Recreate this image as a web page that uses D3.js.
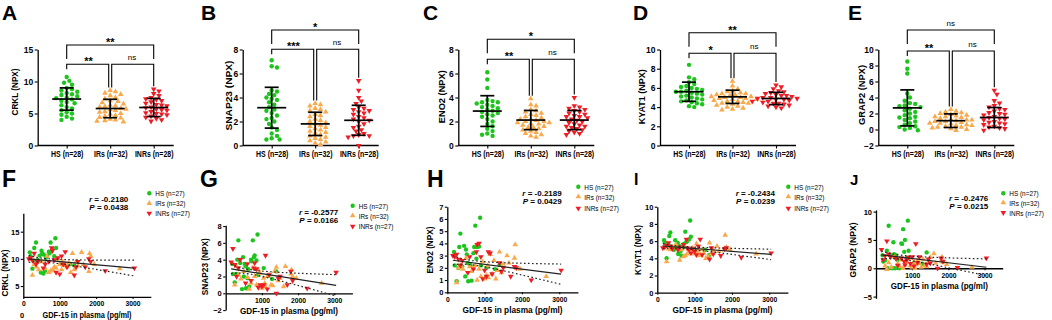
<!DOCTYPE html>
<html>
<head>
<meta charset="utf-8">
<script src="https://cdn.jsdelivr.net/npm/d3@7"></script>
<style>
body { margin: 0; background: #fff; }
svg { display: block; font-family: "Liberation Sans", Arial, sans-serif; }
</style>
</head>
<body>
<svg id="fig" width="1052" height="320"></svg>
<script>
// ---- shared labels / colours ----
const groupsTop = ["HS (n=28)", "IRs (n=32)", "INRs (n=28)"];
const groupsBottom = ["HS (n=27)", "IRs (n=32)", "INRs (n=27)"];
const groupColors = ["#1ec41e", "#f9a94b", "#ee1d25"];

// ---- top row: NPX per group ----
const crklHS = [10.7, 10.1, 9.8, 9.5, 9.0, 8.8, 8.6, 8.4, 8.2, 8.0, 7.9, 7.7, 7.5, 7.4, 7.2, 7.0, 6.8, 6.6, 6.3, 6.0, 5.8, 5.5, 5.2, 5.0, 4.8, 4.5, 4.2, 4.0];
const crklIRs = [8.6, 8.4, 8.2, 8.0, 7.8, 7.5, 7.3, 7.0, 6.9, 6.7, 6.5, 6.3, 6.1, 6.0, 5.8, 5.7, 5.5, 5.3, 5.2, 5.0, 4.9, 4.7, 4.6, 4.4, 4.3, 4.1, 4.0, 3.9, 3.8, 3.7, 5.6, 6.2];
const crklINRs = [8.8, 8.5, 8.1, 7.8, 7.5, 7.2, 7.0, 6.8, 6.6, 6.4, 6.2, 6.0, 5.9, 5.7, 5.5, 5.3, 5.1, 5.0, 4.8, 4.6, 4.4, 4.2, 4.0, 3.8, 6.3, 5.6, 7.3, 4.9];
const crklMean = [7.26, 5.78, 5.94];
const crklSD = [1.74, 1.44, 1.42];
const crklSig = ["**", "**", "ns"];

const snapHS = [7.1, 6.6, 6.5, 4.6, 4.5, 4.3, 4.2, 4.0, 3.9, 3.8, 3.6, 3.4, 3.2, 3.0, 2.9, 2.7, 2.5, 2.3, 2.2, 2.0, 1.8, 1.5, 1.3, 1.0, 0.8, 0.6, 0.5, 0.5];
const snapIRs = [3.5, 3.4, 3.3, 3.1, 3.0, 2.8, 2.6, 2.5, 2.4, 2.2, 2.1, 2.0, 1.9, 1.8, 1.7, 1.6, 1.5, 1.4, 1.3, 1.2, 1.1, 1.0, 0.9, 0.8, 0.7, 0.6, 0.5, 0.4, 0.3, 0.2, 0.1, 2.9];
const snapINRs = [5.4, 4.6, 4.0, 3.7, 3.5, 3.2, 3.1, 3.0, 2.8, 2.7, 2.6, 2.4, 2.3, 2.2, 2.1, 2.0, 1.8, 1.6, 1.5, 1.3, 1.2, 1.0, 0.9, 0.8, 0.8, 0.7, 0.0, 2.9];
const snapMean = [3.15, 1.8, 2.1];
const snapSD = [1.7, 0.97, 1.25];
const snapSig = ["*", "***", "ns"];

const enoHS = [6.1, 5.5, 4.8, 3.8, 3.7, 3.6, 3.5, 3.4, 3.3, 3.2, 3.1, 3.0, 2.9, 2.8, 2.6, 2.5, 2.4, 2.2, 2.0, 1.8, 1.6, 1.4, 1.2, 1.0, 0.9, 0.8, 2.7, 3.6];
const enoIRs = [3.9, 3.4, 3.3, 3.0, 2.9, 2.8, 2.7, 2.5, 2.4, 2.3, 2.2, 2.1, 2.0, 1.9, 1.9, 1.8, 1.7, 1.6, 1.5, 1.4, 1.3, 1.2, 1.1, 1.0, 0.9, 0.8, 0.7, 2.6, 2.0, 1.5, 2.2, 1.8];
const enoINRs = [4.0, 3.3, 3.2, 3.1, 3.0, 2.9, 2.7, 2.6, 2.5, 2.4, 2.3, 2.2, 2.1, 2.0, 1.9, 1.8, 1.7, 1.6, 1.5, 1.4, 1.3, 1.2, 1.1, 1.0, 0.9, 2.8, 1.6, 2.4];
const enoMean = [2.87, 2.12, 2.12];
const enoSD = [1.28, 0.8, 0.8];
const enoSig = ["*", "**", "ns"];

const kyatHS = [8.4, 7.1, 6.9, 6.6, 6.4, 6.2, 6.1, 6.0, 5.9, 5.8, 5.7, 5.6, 5.5, 5.4, 5.3, 5.2, 5.1, 5.0, 4.9, 4.8, 4.7, 4.6, 4.5, 4.4, 4.3, 4.1, 4.0, 5.6];
const kyatIRs = [6.7, 6.2, 5.9, 5.7, 5.6, 5.5, 5.4, 5.3, 5.2, 5.1, 5.0, 5.0, 4.9, 4.9, 4.8, 4.7, 4.6, 4.5, 4.4, 4.3, 4.2, 4.1, 4.0, 3.9, 3.8, 3.7, 5.3, 5.1, 4.8, 4.6, 5.4, 4.4];
const kyatINRs = [6.3, 6.1, 5.9, 5.7, 5.6, 5.4, 5.3, 5.2, 5.1, 5.0, 4.9, 4.8, 4.7, 4.6, 4.5, 4.4, 4.3, 4.2, 4.1, 4.0, 3.9, 5.5, 5.0, 4.8, 4.6, 4.4, 5.2, 4.9];
const kyatMean = [5.6, 5.07, 4.9];
const kyatSD = [1.0, 0.69, 0.64];
const kyatSig = ["**", "*", "ns"];

const grapHS = [8.5, 7.6, 7.0, 4.5, 4.0, 3.6, 3.3, 3.0, 2.8, 2.6, 2.4, 2.2, 2.0, 1.8, 1.6, 1.4, 1.2, 1.0, 0.8, 0.6, 0.4, 0.2, 0.0, -0.1, 2.9, 1.5, 3.2, 0.3];
const grapIRs = [2.5, 2.3, 2.2, 2.0, 1.9, 1.8, 1.7, 1.6, 1.5, 1.4, 1.3, 1.2, 1.1, 1.0, 0.9, 0.8, 0.7, 0.6, 0.5, 0.4, 0.3, 0.2, 0.1, 0.0, -0.1, 1.2, 0.8, 1.6, 0.5, 2.1, 1.0, 0.3];
const grapINRs = [4.9, 4.4, 3.6, 3.3, 3.0, 2.8, 2.5, 2.3, 2.1, 2.0, 1.8, 1.6, 1.5, 1.4, 1.2, 1.0, 0.9, 0.8, 0.6, 0.4, 0.3, 0.2, 0.1, -0.1, 1.9, 1.3, 0.7, 2.6];
const grapMean = [2.7, 1.1, 1.5];
const grapSD = [2.25, 0.85, 1.25];
const grapSig = ["ns", "**", "ns"];

// ---- bottom row: GDF-15 (pg/ml) per subject ----
const gdfHS = [180, 200, 250, 300, 320, 350, 400, 450, 480, 500, 520, 550, 560, 600, 620, 650, 700, 720, 750, 780, 800, 850, 880, 900, 1050, 1280, 1400];
const gdfIRs = [250, 300, 350, 420, 500, 600, 650, 700, 750, 800, 850, 900, 950, 1000, 1050, 1080, 1100, 1150, 1200, 1250, 1300, 1350, 1400, 1450, 1500, 1600, 1650, 1800, 1820, 1850, 1950, 2650];
const gdfINRs = [150, 200, 250, 300, 350, 400, 550, 600, 700, 780, 800, 850, 900, 950, 1000, 1050, 1100, 1150, 1200, 1400, 1450, 1500, 1700, 1800, 1850, 2250, 3050];

const crklHSy = [11.2, 10.5, 8.2, 12.0, 9.5, 13.0, 9.8, 10.6, 7.5, 11.5, 11.0, 7.3, 10.8, 7.8, 10.2, 10.5, 11.3, 11.0, 13.0, 11.5, 11.8, 10.5, 13.8, 12.0, 9.3, 9.0, 8.8];
const crklIRsy = [7.0, 9.0, 8.5, 8.0, 9.5, 8.2, 10.5, 7.5, 7.8, 8.0, 8.5, 8.3, 10.0, 9.0, 8.0, 9.5, 8.8, 9.0, 8.5, 9.2, 7.5, 11.0, 8.0, 9.5, 8.7, 11.2, 9.0, 7.7, 11.0, 10.5, 9.0, 8.2];
const crklINRsy = [10.0, 10.2, 9.7, 11.0, 9.0, 9.5, 8.3, 9.0, 9.5, 12.0, 11.5, 9.8, 7.5, 10.2, 7.2, 10.5, 9.0, 11.3, 8.5, 7.0, 8.5, 9.5, 8.5, 10.0, 9.5, 7.8, 8.3];

const snapHSy = [3.5, 2.3, 1.3, 2.3, 4.0, 6.3, 3.6, 0.5, 4.3, 2.0, 3.5, 3.2, 0.6, 1.8, 2.9, 0.8, 4.0, 3.8, 6.3, 4.3, 4.5, 3.9, 7.0, 2.2, 3.0, 1.7, 2.6];
const snapIRsy = [1.0, 3.2, 2.2, 1.7, 2.6, 1.9, 0.5, 1.2, 3.0, 2.0, 1.0, 2.8, 2.4, 0.6, 1.8, 1.2, 0.8, 2.0, 2.2, 1.0, 0.9, 2.6, 3.1, 1.5, 1.8, 0.8, 3.2, 2.3, 2.8, 2.0, 1.8, 1.2];
const snapINRsy = [3.7, 5.3, 3.4, 2.0, 3.0, 4.0, 1.2, 3.5, 1.5, 3.0, 3.6, 2.9, 0.7, 1.0, 0.8, 1.0, 4.5, 0.5, 2.2, 0.0, 1.8, 2.0, 1.0, 2.6, 1.5, 0.6, 2.5];

const enoHSy = [3.3, 2.2, 0.9, 2.0, 3.7, 4.8, 2.1, 3.8, 1.3, 3.5, 3.1, 2.4, 0.9, 2.3, 2.2, 0.95, 3.2, 3.7, 5.45, 2.75, 3.7, 3.75, 6.1, 2.2, 2.0, 1.9, 2.25];
const enoIRsy = [0.8, 2.0, 2.2, 1.9, 2.8, 2.1, 1.7, 2.0, 2.2, 1.0, 1.9, 1.3, 2.5, 1.1, 1.4, 2.2, 1.2, 3.1, 1.5, 2.6, 1.1, 1.8, 3.3, 1.6, 2.3, 3.0, 2.4, 2.8, 3.9, 2.0, 1.9, 1.3];
const enoINRsy = [3.0, 2.9, 3.1, 2.7, 2.2, 2.6, 1.6, 2.9, 1.9, 3.3, 3.9, 4.0, 2.9, 1.1, 1.8, 1.3, 3.3, 3.2, 1.5, 2.4, 1.7, 2.0, 1.3, 2.1, 2.0, 1.0, 1.8];

const kyatHSy = [6.1, 5.8, 4.0, 5.6, 6.6, 7.0, 5.3, 5.0, 6.1, 5.5, 5.2, 5.8, 4.5, 5.4, 4.8, 4.3, 5.3, 5.7, 7.1, 5.9, 6.0, 6.2, 8.4, 6.5, 4.9, 5.0, 4.4];
const kyatIRsy = [3.6, 5.1, 5.0, 5.3, 5.6, 3.8, 5.0, 4.2, 4.3, 4.5, 5.0, 4.7, 5.2, 4.5, 5.7, 4.4, 4.8, 4.3, 5.0, 4.6, 4.0, 4.2, 5.8, 4.5, 4.9, 5.4, 4.8, 5.1, 6.7, 5.3, 5.0, 4.5];
const kyatINRsy = [5.2, 5.3, 5.5, 5.8, 5.4, 5.1, 5.0, 5.3, 5.6, 6.2, 5.2, 5.0, 4.6, 5.1, 4.8, 4.4, 5.4, 6.2, 4.4, 3.9, 5.2, 4.5, 4.3, 5.1, 5.2, 4.1, 4.6];

const grapHSy = [2.3, 1.2, 1.4, 3.1, 0.0, 7.5, 2.3, 0.0, 4.6, 2.5, 0.0, 2.3, 1.8, 1.5, 0.5, 0.0, 4.4, 4.3, 6.9, 2.9, 5.0, 1.9, 8.4, 3.1, 1.0, 0.8, 2.8];
const grapIRsy = [0.4, -0.2, 1.0, 0.2, 2.0, 0.8, 0.3, 1.5, 0.0, 0.6, 1.2, 1.8, 0.4, 0.2, 1.1, 0.0, 0.6, 1.4, 0.8, 0.2, 1.6, 0.5, 0.3, 1.2, 1.9, 2.6, 0.9, 1.4, 2.0, 1.1, 0.7, 0.2];
const grapINRsy = [3.3, 1.5, 2.2, 4.8, 2.5, 2.0, 1.7, 0.5, 1.8, 1.2, 0.6, 1.5, 1.9, 0.8, 2.0, 0.4, 4.3, 1.0, 2.0, 0.7, 1.6, 0.9, 0.0, 1.8, 1.2, 0.1, 1.8];

// regression line and 95% band read at GDF-15 = 150, 950, 3050
const fitX = [150, 3050];
const bandX = [150, 950, 3050];
const crklFit = [10.0, 8.3], crklUp = [10.64, 9.91, 9.75], crklLo = [9.36, 9.15, 6.85], crklStat = ["-0.2180", "0.0438"];
const snapFit = [2.9, 0.95], snapUp = [3.45, 2.66, 2.22], snapLo = [2.35, 2.06, -0.32], snapStat = ["-0.2577", "0.0166"];
const enoFit = [2.62, 1.48], enoUp = [2.99, 2.51, 2.31], enoLo = [2.25, 2.11, 0.65], enoStat = ["-0.2189", "0.0429"];
const kyatFit = [5.43, 4.46], kyatUp = [5.71, 5.31, 5.06], kyatLo = [5.15, 5.01, 3.84], kyatStat = ["-0.2434", "0.0239"];
const grapFit = [2.35, 0.18], grapUp = [3.05, 2.15, 1.65], grapLo = [1.65, 1.35, -1.29], grapStat = ["-0.2476", "0.0215"];

const svg = d3.select("#fig");
const fmt = d3.format("d");

function squeeze(sel, k) {
    sel.each(function() {
        const w = this.getComputedTextLength();
        d3.select(this).attr("textLength", w * k).attr("lengthAdjust", "spacingAndGlyphs");
    });
}

function styleAxis(a, fs) {
    a.attr("font-family", null).attr("font-size", null);
    a.select(".domain").attr("stroke-width", 1.3);
    a.selectAll(".tick line").attr("stroke-width", 1.1);
    a.selectAll("text").attr("font-size", fs).attr("font-weight", "bold").attr("fill", "#000");
}

function marker(sel, gi, size) {
    const shape = gi === 0 ? d3.symbolCircle : d3.symbolTriangle;
    sel.attr("d", d3.symbol(shape, gi === 0 ? size : size * 0.9))
        .attr("fill", groupColors[gi]);
}

// GraphPad-like column scatter: spread points sideways until they do not overlap
function swarm(vals, y, cx, d) {
    const order = d3.range(vals.length).sort((a, b) => vals[b] - vals[a]);
    const placed = [];
    const out = [];
    order.forEach(i => {
        const py = y(vals[i]);
        for (let k = 0; k < 60; k++) {
            const px = cx + (k === 0 ? 0 : (k % 2 ? 1 : -1) * Math.ceil(k / 2) * d * 0.6);
            if (placed.every(q => (q[0] - px) ** 2 + (q[1] - py) ** 2 >= d * d)) {
                placed.push([px, py]);
                out[i] = [px, py];
                break;
            }
        }
    });
    return out;
}

// ---- top row panels ----
const dotPanels = [
    { letter: "A", lx: 2, ax: 37.7, label: "CRKL (NPX)", labX: 15, labY: 92, labLen: 47, domain: [0, 15], ticks: [0, 5, 10, 15],
      vals: [crklHS, crklIRs, crklINRs], mean: crklMean, sd: crklSD, sig: crklSig, top: 45, low: 64.3 },
    { letter: "B", lx: 201, ax: 242.7, label: "SNAP23 (NPX)", labX: 228.3, labY: 95.5, labLen: 70, domain: [0, 8], ticks: [0, 2, 4, 6, 8],
      vals: [snapHS, snapIRs, snapINRs], mean: snapMean, sd: snapSD, sig: snapSig, top: 30, low: 49.3 },
    { letter: "C", lx: 423, ax: 458.3, label: "ENO2 (NPX)", labX: 441.7, labY: 96.7, labLen: 53, domain: [0, 8], ticks: [0, 2, 4, 6, 8],
      vals: [enoHS, enoIRs, enoINRs], mean: enoMean, sd: enoSD, sig: enoSig, top: 39.3, low: 59.3 },
    { letter: "D", lx: 633, ax: 660, label: "KYAT1 (NPX)", labX: 641.7, labY: 96.7, labLen: 55, domain: [0, 10], ticks: [0, 2, 4, 6, 8, 10],
      vals: [kyatHS, kyatIRs, kyatINRs], mean: kyatMean, sd: kyatSD, sig: kyatSig, top: 32.7, low: 53.3 },
    { letter: "E", lx: 848, ax: 878.3, label: "GRAP2 (NPX)", labX: 861.7, labY: 95, labLen: 60, domain: [-2, 10], ticks: [-2, 0, 2, 4, 6, 8, 10],
      vals: [grapHS, grapIRs, grapINRs], mean: grapMean, sd: grapSD, sig: grapSig, top: 30, low: 51 }
];

function drawDotPanel(p) {
    const g = svg.append("g");
    const x = d3.scalePoint().domain(groupsTop).range([p.ax + 29, p.ax + 116]);
    const y = d3.scaleLinear().domain(p.domain).range([145.5, 49.5]);

    g.append("text").attr("x", p.lx).attr("y", 20).attr("font-size", 21).attr("font-weight", "bold").text(p.letter);

    const ya = g.append("g").attr("transform", `translate(${p.ax},0)`)
        .call(d3.axisLeft(y).tickValues(p.ticks).tickFormat(fmt).tickSize(3).tickSizeOuter(0).tickPadding(1.5));
    styleAxis(ya, 8.5);

    g.append("line").attr("x1", p.ax).attr("x2", p.ax + 136).attr("y1", 145.5).attr("y2", 145.5)
        .attr("stroke", "#000").attr("stroke-width", 1.3);
    const xa = g.append("g").attr("transform", "translate(0,145.5)")
        .call(d3.axisBottom(x).tickSize(3).tickPadding(2));
    xa.select(".domain").remove();
    styleAxis(xa, 8.5);
    squeeze(xa.selectAll("text"), 0.82);

    g.append("text")
        .attr("transform", `translate(${p.labX},${p.labY}) rotate(-90)`)
        .attr("text-anchor", "middle").attr("dy", "0.35em")
        .attr("font-size", 9.5).attr("font-weight", "bold")
        .attr("textLength", p.labLen).attr("lengthAdjust", "spacingAndGlyphs")
        .text(p.label);

    // points
    p.vals.forEach((vals, gi) => {
        const pos = swarm(vals, y, x(groupsTop[gi]), 4.4);
        g.append("g").selectAll("path").data(pos).enter().append("path")
            .call(marker, gi, 15)
            .attr("transform", d => `translate(${d[0]},${d[1]})` + (gi === 2 ? " rotate(180)" : ""));
    });

    // mean +/- SD
    const bars = g.append("g").attr("stroke", "#000").attr("stroke-width", 1.7);
    p.mean.forEach((m, gi) => {
        const cx = x(groupsTop[gi]);
        const lo = y(m - p.sd[gi]), hi = y(m + p.sd[gi]);
        bars.append("line").attr("x1", cx - 14.5).attr("x2", cx + 14.5).attr("y1", y(m)).attr("y2", y(m));
        bars.append("line").attr("x1", cx).attr("x2", cx).attr("y1", lo).attr("y2", hi);
        bars.append("line").attr("x1", cx - 7).attr("x2", cx + 7).attr("y1", lo).attr("y2", lo);
        bars.append("line").attr("x1", cx - 7).attr("x2", cx + 7).attr("y1", hi).attr("y2", hi);
    });

    // significance brackets
    const xs = x(groupsTop[0]), xi = x(groupsTop[1]), xn = x(groupsTop[2]);
    const legEnd = gi => y(d3.max(p.vals[gi])) - 3;
    const br = g.append("g").attr("fill", "none").attr("stroke", "#000").attr("stroke-width", 1.1);
    br.append("path").attr("d", `M${xs},${p.top + 14}V${p.top}H${xn}V${p.top + 14}`);
    br.append("path").attr("d", `M${xs},${p.low + 5}V${p.low}H${xi - 1.5}V${legEnd(1)}`);
    br.append("path").attr("d", `M${xi + 1.5},${legEnd(1)}V${p.low}H${xn}V${legEnd(2)}`);

    const labs = [[(xs + xn) / 2, p.top], [(xs + xi) / 2, p.low], [(xi + xn) / 2, p.low]];
    labs.forEach((l, i) => {
        const s = p.sig[i];
        const t = g.append("text").attr("x", l[0]).attr("text-anchor", "middle").text(s);
        if (s === "ns") t.attr("y", l[1] - 4).attr("font-size", 8);
        else t.attr("y", l[1] + 1).attr("font-size", 11).attr("font-weight", "bold");
    });
}

// ---- bottom row panels ----
const scatPanels = [
    { letter: "F", lx: 2, ly: 187, fs: 23, xr: [23.3, 150.8], yd: [3, 18.4], yr: [296.9, 213.2], yt: [5, 10, 15], xt: [0, 1000, 2000, 3000], zeroAxis: false,
      label: "CRKL (NPX)", labX: 5, labY: 273, labLen: 47, titleY: 317.5, titleLen: 89,
      ys: [crklHSy, crklIRsy, crklINRsy], fit: crklFit, up: crklUp, lo: crklLo, stat: crklStat, rx: 128.3, ry: 202, legX: 149.3, legY: [193.3, 203.3, 213.3] },
    { letter: "G", lx: 200, ly: 187, fs: 23, xr: [225.7, 352.4], yd: [-2, 8.1], yr: [310.1, 225.2], yt: [-2, 0, 2, 4, 6, 8], xt: [1000, 2000, 3000], zeroAxis: true,
      label: "SNAP23 (NPX)", labX: 205, labY: 266.7, labLen: 57, titleY: 314, titleLen: 98,
      ys: [snapHSy, snapIRsy, snapINRsy], fit: snapFit, up: snapUp, lo: snapLo, stat: snapStat, rx: 338.3, ry: 215, legX: 352.7, legY: [205.7, 215.7, 226.3] },
    { letter: "H", lx: 427, ly: 187, fs: 23, xr: [447.3, 577.9], yd: [0, 7], yr: [292.3, 206.7], yt: [0, 1, 2, 3, 4, 5, 6, 7], xt: [0, 1000, 2000, 3000], zeroAxis: false,
      label: "ENO2 (NPX)", labX: 430, labY: 250, labLen: 47, titleY: 313.3, titleLen: 100,
      ys: [enoHSy, enoIRsy, enoINRsy], fit: enoFit, up: enoUp, lo: enoLo, stat: enoStat, rx: 561.7, ry: 196, legX: 578.3, legY: [186.7, 196.7, 208.3] },
    { letter: "I", lx: 634, ly: 185, fs: 16, xr: [657.3, 787.9], yd: [0, 10], yr: [292.7, 206.7], yt: [0, 2, 4, 6, 8, 10], xt: [0, 1000, 2000, 3000], zeroAxis: false,
      label: "KYAT1 (NPX)", labX: 638, labY: 250, labLen: 50, titleY: 313.3, titleLen: 100,
      ys: [kyatHSy, kyatIRsy, kyatINRsy], fit: kyatFit, up: kyatUp, lo: kyatLo, stat: kyatStat, rx: 775, ry: 196, legX: 788.3, legY: [186.7, 196.7, 208.3] },
    { letter: "J", lx: 850, ly: 185, fs: 15, xr: [876, 1002.7], yd: [-5.3, 10.3], yr: [298.3, 209.9], yt: [-5, 0, 5, 10], xt: [1000, 2000, 3000], zeroAxis: true,
      label: "GRAP2 (NPX)", labX: 853.3, labY: 250, labLen: 55, titleY: 289.3, titleLen: 97,
      ys: [grapHSy, grapIRsy, grapINRsy], fit: grapFit, up: grapUp, lo: grapLo, stat: grapStat, rx: 988.3, ry: 201, legX: 1003.3, legY: [193.3, 202.7, 212.7] }
];

function drawScatPanel(p) {
    const g = svg.append("g");
    const x = d3.scaleLinear().domain([0, 3500]).range(p.xr);
    const y = d3.scaleLinear().domain(p.yd).range(p.yr);
    const xAxisY = p.zeroAxis ? y(0) : y(p.yd[0]);

    g.append("text").attr("x", p.lx).attr("y", p.ly).attr("font-size", p.fs).attr("font-weight", "bold").text(p.letter);

    const ya = g.append("g").attr("transform", `translate(${p.xr[0]},0)`)
        .call(d3.axisLeft(y).tickValues(p.yt).tickFormat(fmt).tickSize(2.5).tickSizeOuter(0).tickPadding(1.5));
    styleAxis(ya, 7.5);
    const xa = g.append("g").attr("transform", `translate(0,${xAxisY})`)
        .call(d3.axisBottom(x).tickValues(p.xt).tickFormat(fmt).tickSize(2).tickSizeOuter(0).tickPadding(2));
    styleAxis(xa, 7.5);
    squeeze(xa.selectAll("text"), 0.9);

    g.append("text")
        .attr("transform", `translate(${p.labX},${p.labY}) rotate(-90)`)
        .attr("text-anchor", "middle").attr("dy", "0.35em")
        .attr("font-size", 8.5).attr("font-weight", "bold")
        .attr("textLength", p.labLen).attr("lengthAdjust", "spacingAndGlyphs")
        .text(p.label);

    g.append("text").attr("x", (p.xr[0] + p.xr[1]) / 2).attr("y", p.titleY)
        .attr("text-anchor", "middle").attr("font-size", 9.5).attr("font-weight", "bold")
        .attr("textLength", p.titleLen).attr("lengthAdjust", "spacingAndGlyphs")
        .text("GDF-15 in plasma (pg/ml)");

    // points
    const gdf = [gdfHS, gdfIRs, gdfINRs];
    p.ys.forEach((vals, gi) => {
        g.append("g").selectAll("path").data(vals).enter().append("path")
            .call(marker, gi, 15)
            .attr("transform", (d, i) => `translate(${x(gdf[gi][i])},${y(d)})` + (gi === 2 ? " rotate(180)" : ""));
    });

    // regression line and confidence band
    const line = d3.line().x(d => x(d[0])).y(d => y(d[1]));
    const band = d3.line().x(d => x(d[0])).y(d => y(d[1])).curve(d3.curveNatural);
    g.append("path").attr("d", line(d3.zip(fitX, p.fit)))
        .attr("fill", "none").attr("stroke", "#222").attr("stroke-width", 1.2);
    [p.up, p.lo].forEach(b => {
        g.append("path").attr("d", band(d3.zip(bandX, b)))
            .attr("fill", "none").attr("stroke", "#222").attr("stroke-width", 1.2)
            .attr("stroke-dasharray", "1.6,2.4");
    });

    // r / P
    const st = g.append("g").attr("font-size", 8).attr("font-weight", "bold").attr("text-anchor", "end");
    const t1 = st.append("text").attr("x", p.rx).attr("y", p.ry);
    t1.append("tspan").attr("font-style", "italic").text("r");
    t1.append("tspan").text(" = " + p.stat[0]);
    const t2 = st.append("text").attr("x", p.rx).attr("y", p.ry + 7.5);
    t2.append("tspan").attr("font-style", "italic").text("P");
    t2.append("tspan").text(" = " + p.stat[1]);

    // legend
    groupsBottom.forEach((name, gi) => {
        g.append("path").call(marker, gi, 15)
            .attr("transform", `translate(${p.legX},${p.legY[gi]})` + (gi === 2 ? " rotate(180)" : ""));
        const t = g.append("text").attr("x", p.legX + 6).attr("y", p.legY[gi]).attr("dy", "0.35em")
            .attr("font-size", 8).text(name);
        squeeze(t, 0.8);
    });
}

dotPanels.forEach(drawDotPanel);
scatPanels.forEach(drawScatPanel);

// stray axis label left under panel F in the original figure
svg.append("text").attr("x", 20).attr("y", 318).attr("font-size", 7.5).attr("font-weight", "bold").text("0");
</script>
</body>
</html>
